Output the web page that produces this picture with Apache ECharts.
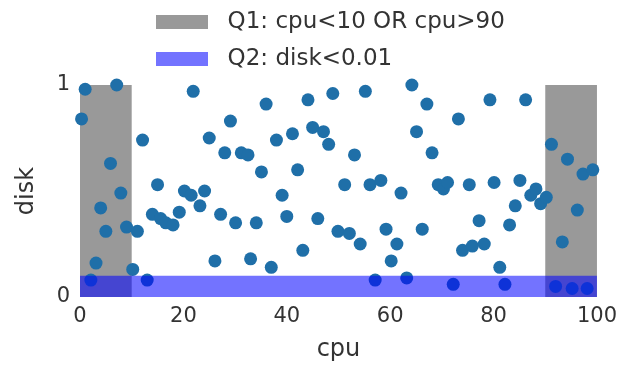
<!DOCTYPE html>
<html>
<head>
<meta charset="utf-8">
<script src="https://cdn.jsdelivr.net/npm/echarts@6/dist/echarts.min.js"></script>
<style>
  html, body { margin: 0; padding: 0; background: #fff; }
  #chart { width: 620px; height: 367px; }
</style>
</head>
<body>
<div id="chart"></div>
<script>
// cpu / disk samples
var cpu = [1.0, 7.1, 0.3, 12.1, 5.9, 7.9, 4.0, 5.0, 9.0, 11.1, 3.1, 10.2, 2.1, 13.0,
  21.9, 29.1, 36.0, 44.1, 48.9, 25.0, 28.0, 31.2, 32.5, 38.0, 41.1, 45.0, 47.1, 48.1,
  35.1, 42.1, 15.0, 20.2, 21.5, 24.1, 23.2, 39.1, 51.2, 14.0, 15.6, 16.6, 18.0, 19.2,
  27.2, 30.1, 34.1, 40.0, 46.0, 49.9, 52.1, 43.1, 26.1, 33.0, 37.0,
  55.2, 64.2, 67.1, 73.2, 79.3, 86.2, 65.1, 68.1, 53.1, 56.1, 58.2, 62.1, 69.3, 70.3,
  71.1, 75.3, 80.1, 85.1, 87.2, 88.2, 89.1, 90.2, 84.2, 91.2, 94.3, 97.3, 99.2, 96.2,
  93.3, 54.2, 59.2, 61.3, 60.2, 66.2, 77.2, 83.1, 74.0, 75.9, 78.2, 81.2,
  57.1, 63.2, 72.2, 82.2, 92.0, 95.2, 98.1]
var disk = [0.98, 1.0, 0.84, 0.74, 0.63, 0.49, 0.42, 0.31, 0.33, 0.31, 0.16, 0.13, 0.08, 0.08,
  0.97, 0.83, 0.91, 0.93, 0.96, 0.75, 0.68, 0.68, 0.67, 0.74, 0.77, 0.80, 0.78, 0.72,
  0.59, 0.60, 0.53, 0.50, 0.48, 0.50, 0.43, 0.48, 0.53, 0.39, 0.37, 0.35, 0.34, 0.40,
  0.39, 0.35, 0.35, 0.38, 0.37, 0.31, 0.30, 0.22, 0.17, 0.18, 0.14,
  0.97, 1.0, 0.91, 0.84, 0.93, 0.93, 0.78, 0.68, 0.67, 0.53, 0.55, 0.49, 0.53, 0.51,
  0.54, 0.53, 0.54, 0.55, 0.48, 0.51, 0.44, 0.47, 0.43, 0.72, 0.65, 0.58, 0.60, 0.41,
  0.26, 0.25, 0.32, 0.25, 0.17, 0.32, 0.36, 0.34, 0.22, 0.24, 0.25, 0.14,
  0.08, 0.09, 0.06, 0.06, 0.05, 0.04, 0.04]

// query regions: [cpuFrom, cpuTo, diskFrom, diskTo]
var q1Boxes = [[0, 10, 0, 1], [90, 100, 0, 1]]
var q2Boxes = [[0, 100, 0, 0.1]]

var xTicks = [0, 20, 40, 60, 80, 100]
var yTicks = [0, 1]

var points = cpu.map(function (c, i) { return [c, disk[i]] })

function boxRender(params, api) {
  var p0 = api.coord([api.value(0), api.value(3)])
  var p1 = api.coord([api.value(1), api.value(2)])
  return {
    type: 'rect',
    shape: { x: p0[0], y: p0[1], width: p1[0] - p0[0], height: p1[1] - p0[1] },
    style: { fill: api.visual('color') }
  }
}

var myChart = echarts.init(document.getElementById('chart'))
var font = 'DejaVu Sans'
var option = {
  animation: false,
  textStyle: { fontFamily: font },
  legend: {
    orient: 'vertical',
    left: 151,
    top: 5,
    itemWidth: 52,
    itemHeight: 14,
    itemGap: 13,
    icon: 'rect',
    formatter: function (name) { return '\u00a0\u00a0' + name },
    textStyle: { fontSize: 23, lineHeight: 24, color: '#333', fontFamily: font },
    data: ['Q1: cpu<10 OR cpu>90', 'Q2: disk<0.01']
  },
  grid: { left: 80, right: 22, top: 85, bottom: 70 },
  xAxis: {
    type: 'value',
    min: 0,
    max: 100,
    interval: 20,
    name: 'cpu',
    nameLocation: 'middle',
    nameGap: 41,
    nameTextStyle: { fontSize: 24, color: '#333', fontFamily: font },
    axisLine: { show: false },
    axisTick: { show: false },
    splitLine: { show: false },
    axisLabel: { fontSize: 21, color: '#333', margin: 9, fontFamily: font,
      formatter: function (v) { return xTicks.indexOf(v) >= 0 ? v : '' } }
  },
  yAxis: {
    type: 'value',
    min: 0,
    max: 1,
    interval: 1,
    name: 'disk',
    nameLocation: 'middle',
    nameGap: 41,
    nameTextStyle: { fontSize: 24, color: '#333', fontFamily: font },
    axisLine: { show: false },
    axisTick: { show: false },
    splitLine: { show: false },
    axisLabel: { fontSize: 21, color: '#333', margin: 10, fontFamily: font,
      formatter: function (v) { return yTicks.indexOf(v) >= 0 ? v : '' } }
  },
  series: [
    {
      name: 'Q1: cpu<10 OR cpu>90',
      type: 'custom',
      z: 1,
      itemStyle: { color: '#999999' },
      renderItem: boxRender,
      data: q1Boxes
    },
    {
      name: 'points',
      type: 'scatter',
      z: 2,
      symbolSize: 13,
      itemStyle: { color: '#1f6fa8', opacity: 1 },
      data: points
    },
    {
      name: 'Q2: disk<0.01',
      type: 'custom',
      z: 3,
      itemStyle: { color: 'rgba(0,0,255,0.55)' },
      renderItem: boxRender,
      data: q2Boxes
    }
  ]
}
myChart.setOption(option)
</script>
</body>
</html>
